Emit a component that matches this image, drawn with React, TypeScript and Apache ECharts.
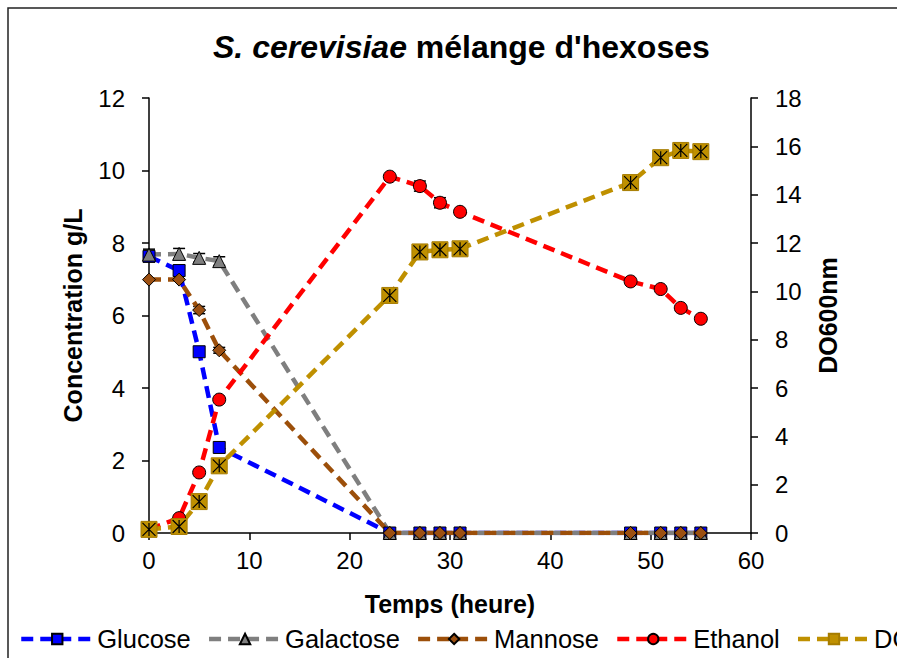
import React, { useEffect, useRef } from "react";
import * as echarts from "echarts";

const times = [0, 3, 5, 7, 24, 27, 29, 31, 48, 51, 53, 55];
const glucose = [7.63, 7.24, 5.0, 2.36, 0, 0, 0, 0, 0, 0, 0, 0];
const galactose = [7.68, 7.7, 7.59, 7.5, 0, 0, 0, 0, 0, 0, 0, 0];
const mannose = [6.99, 6.99, 6.15, 5.04, 0, 0, 0, 0, 0, 0, 0, 0];
const ethanol = [0.1, 0.41, 1.67, 3.68, 9.83, 9.57, 9.11, 8.86, 6.94, 6.73, 6.21, 5.91];
const od600 = [0.15, 0.27, 1.3, 2.78, 9.83, 11.63, 11.72, 11.76, 14.5, 15.53, 15.83, 15.78];

const glucoseErr = [0.08, 0.15, 0, 0, 0, 0, 0, 0, 0, 0, 0, 0];
const galactoseErr = [0.15, 0.15, 0.12, 0.12, 0, 0, 0, 0, 0, 0, 0, 0];
const mannoseErr = [0, 0, 0.1, 0.08, 0, 0, 0, 0, 0, 0, 0, 0];
const ethanolErr = [0, 0, 0, 0, 0, 0.14, 0.14, 0, 0, 0, 0, 0];

const seriesNames = ["Glucose", "Galactose", "Mannose", "Ethanol", "DO600nm"];
const xTitle = "Temps (heure)";
const yLeftTitle = "Concentration g/L";
const yRightTitle = "DO600nm";

const FONT = "'Liberation Sans', Arial, sans-serif";

function pairs(vals: number[]) {
  return times.map((t, i) => [t, vals[i]]);
}

function errData(vals: number[], errs: number[]) {
  const out: number[][] = [];
  times.forEach((t, i) => {
    if (errs[i] > 0) out.push([t, vals[i], errs[i]]);
  });
  return out;
}

export default function App() {
  const ref = useRef<HTMLDivElement>(null);
  useEffect(() => {
    if (!ref.current) return;
    const chart = echarts.init(ref.current, null, { renderer: "svg" });
    const dash = [12, 7];
    const lineSeries = (
      name: string,
      data: number[],
      color: string,
      symbol: string,
      symbolSize: number,
      fill: string,
      border: string,
      yAxisIndex = 0
    ) => ({
      name,
      type: "line",
      yAxisIndex,
      data: pairs(data),
      symbol,
      symbolSize,
      showSymbol: true,
      lineStyle: { color, width: 4.5, type: dash },
      itemStyle: { color: fill, borderColor: border, borderWidth: 1 },
      emphasis: { disabled: true },
    });
    const errAll = [
      ...errData(glucose, glucoseErr),
      ...errData(galactose, galactoseErr),
      ...errData(mannose, mannoseErr),
      ...errData(ethanol, ethanolErr),
    ];
    const axisLine = { lineStyle: { color: "#000", width: 1.5 } };
    const axisTick = { inside: false, length: 7, lineStyle: { color: "#000", width: 1.5 } };
    const axisLabel = (margin: number) => ({
      color: "#000",
      fontSize: 24,
      fontFamily: FONT,
      margin,
    });
    const nameStyle = {
      color: "#000",
      fontSize: 25,
      fontWeight: "bold",
      fontFamily: FONT,
    };
    chart.setOption({
      animation: false,
      backgroundColor: "#fff",
      title: {
        text: "{i|S. cerevisiae} mélange d'hexoses",
        left: 208,
        top: 26,
        textStyle: {
          color: "#000",
          fontSize: 32,
          fontWeight: "bold",
          fontFamily: FONT,
          rich: {
            i: {
              fontStyle: "italic",
              fontWeight: "bold",
              fontSize: 32,
              fontFamily: FONT,
              color: "#000",
            },
          },
        },
      },
      graphic: [
        {
          type: "rect",
          shape: { x: 8, y: 8, width: 1200, height: 1200 },
          style: { fill: "none", stroke: "#222", lineWidth: 1.5 },
          silent: true,
          z: -10,
        },
      ],
      legend: {
        data: seriesNames,
        left: 14,
        top: 621,
        width: 1200,
        itemWidth: 72,
        itemHeight: 13,
        itemGap: 16,
        lineStyle: { width: 4.5 },
        textStyle: { color: "#000", fontSize: 25.5, fontFamily: FONT, padding: [0, 0, 0, -1] },
      },
      grid: { left: 149, right: 146, top: 98, bottom: 125, containLabel: false },
      xAxis: {
        type: "value",
        min: 0,
        max: 60,
        interval: 10,
        axisLine,
        axisTick,
        splitLine: { show: false },
        axisLabel: axisLabel(15),
        name: xTitle,
        nameLocation: "middle",
        nameGap: 58,
        nameTextStyle: nameStyle,
      },
      yAxis: [
        {
          type: "value",
          min: 0,
          max: 12,
          interval: 2,
          axisLine: { show: true, ...axisLine },
          axisTick,
          splitLine: { show: false },
          axisLabel: axisLabel(24),
          name: yLeftTitle,
          nameLocation: "middle",
          nameGap: 64,
          nameTextStyle: nameStyle,
        },
        {
          type: "value",
          position: "right",
          min: 0,
          max: 18,
          interval: 2,
          axisLine: { show: true, ...axisLine },
          axisTick,
          splitLine: { show: false },
          axisLabel: axisLabel(24),
          name: yRightTitle,
          nameLocation: "middle",
          nameGap: 64,
          nameTextStyle: nameStyle,
        },
      ],
      series: [
        {
          name: "err",
          type: "custom",
          xAxisIndex: 0,
          yAxisIndex: 0,
          data: errAll,
          silent: true,
          z: 1,
          renderItem: (params: any, api: any) => {
            const x = api.value(0);
            const v = api.value(1);
            const e = api.value(2);
            const top = api.coord([x, v + e]);
            const bot = api.coord([x, v - e]);
            const hw = 6;
            const st = { stroke: "#000", lineWidth: 1.5 };
            return {
              type: "group",
              children: [
                { type: "line", shape: { x1: top[0], y1: top[1], x2: bot[0], y2: bot[1] }, style: st },
                { type: "line", shape: { x1: top[0] - hw, y1: top[1], x2: top[0] + hw, y2: top[1] }, style: st },
                { type: "line", shape: { x1: bot[0] - hw, y1: bot[1], x2: bot[0] + hw, y2: bot[1] }, style: st },
              ],
            };
          },
        },
        lineSeries("Glucose", glucose, "#0000FF", "rect", 12, "#0000FF", "#000"),
        lineSeries("Galactose", galactose, "#7F7F7F", "triangle", 13, "#7F7F7F", "#000"),
        lineSeries("Mannose", mannose, "#9C4F0A", "diamond", 13, "#9C5012", "#000"),
        lineSeries("Ethanol", ethanol, "#FF0000", "circle", 13, "#FF0000", "#000"),
        lineSeries("DO600nm", od600, "#BF9000", "rect", 16, "#BF9000", "#A67C00", 1),
        {
          name: "DO-star",
          type: "line",
          yAxisIndex: 1,
          data: pairs(od600),
          symbol: "path://M0,0L10,10M10,0L0,10M5,0L5,10",
          symbolSize: 13,
          showSymbol: true,
          lineStyle: { width: 0, opacity: 0 },
          itemStyle: { color: "rgba(0,0,0,0)", borderColor: "#000", borderWidth: 1.2 },
          silent: true,
          emphasis: { disabled: true },
          z: 3,
        },
      ],
    });
    return () => chart.dispose();
  }, []);
  return (
    <div
      ref={ref}
      style={{ position: "absolute", left: 0, top: 0, width: 897, height: 658 }}
    />
  );
}
